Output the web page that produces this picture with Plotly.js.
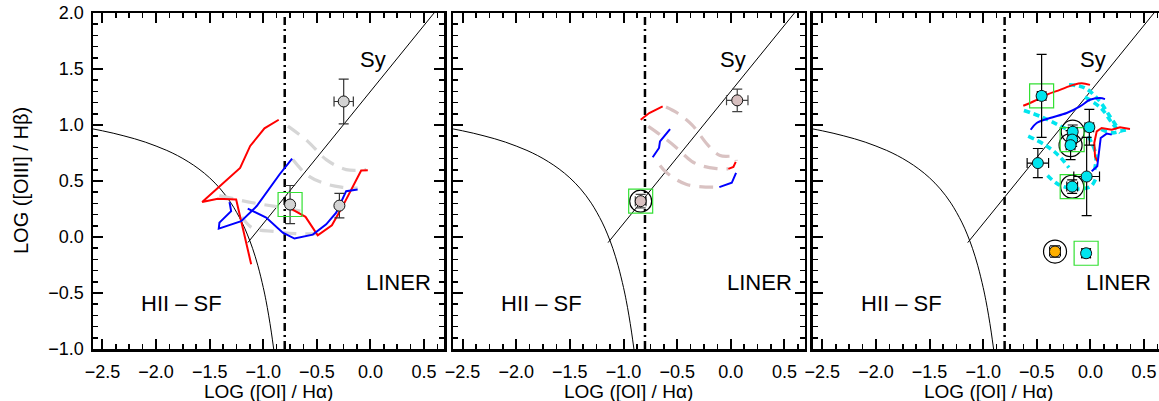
<!DOCTYPE html>
<html><head><meta charset="utf-8">
<script src="https://cdn.plot.ly/plotly-3.0.1.min.js"></script>
<style>html,body{margin:0;padding:0;background:#fff}#g{width:1159px;height:401px}</style>
</head><body><div id="g"></div>
<script>
// ---------- data ----------
// Kewley+01 maximum starburst curve (sampled)
const kewX = [-2.6,-2.5,-2.4,-2.3,-2.2,-2.1,-2.0,-1.9,-1.8,-1.7,-1.6,-1.5,-1.4,-1.3,-1.2,-1.15,-1.1,-1.05,-1.0,-0.975,-0.95,-0.925,-0.903];
const kewY = [0.967,0.948,0.927,0.903,0.877,0.847,0.812,0.773,0.727,0.672,0.607,0.528,0.429,0.302,0.133,0.026,-0.101,-0.257,-0.451,-0.566,-0.698,-0.849,-1.0];
// Seyfert / LINER line
const syX = [-1.144, 0.593];
const syY = [-0.05, 2.0];
// vertical dash-dot divider
const divX = [-0.8, -0.8];
const divY = [-1.0, 2.0];

// Panel 1
const p1X = [-0.25, -0.75, -0.29];
const p1Y = [1.21, 0.29, 0.28];
const p1Xerr = [0.09, 0.02, 0.02];
const p1Yerr = [0.20, 0.17, 0.11];
const p1SqX = [-0.75], p1SqY = [0.29];
const p1Red1X = [-0.856,-0.989,-1.122,-1.216,-1.570,-1.425,-1.253,-1.238,-1.113];
const p1Red1Y = [1.047,0.970,0.813,0.617,0.313,0.341,0.335,0.276,-0.243];
const p1Red2X = [-0.756,-0.606,-0.492,-0.360,-0.259,-0.149,-0.087,-0.025];
const p1Red2Y = [0.260,0.180,0.015,0.105,0.276,0.484,0.593,0.596];
const p1Blue1X = [-1.315,-1.300,-1.409,-1.415,-1.206,-1.061,-0.849,-0.731];
const p1Blue1Y = [0.311,0.231,0.128,0.075,0.142,0.276,0.558,0.700];
const p1Blue2X = [-1.145,-0.973,-0.818,-0.709,-0.538,-0.413,-0.320,-0.227,-0.120];
const p1Blue2Y = [0.253,0.173,0.039,-0.014,0.021,0.113,0.217,0.409,0.424];
const p1Gray1X = [-0.77,-0.585,-0.413,-0.227,-0.04];
const p1Gray1Y = [0.99,0.854,0.691,0.602,0.602];
const p1Gray2X = [-0.725,-0.585,-0.429,-0.273,-0.12];
const p1Gray2Y = [0.691,0.549,0.478,0.445,0.436];
const p1Gray3X = [-1.41,-1.10,-0.82,-0.60];
const p1Gray3Y = [0.37,0.306,0.262,0.22];
const p1Gray4X = [-1.20,-1.10,-0.90,-0.70,-0.50];
const p1Gray4Y = [0.18,0.08,0.05,0.03,0.03];

// Panel 2
const p2X = [0.06, -0.84];
const p2Y = [1.22, 0.32];
const p2Xerr = [0.10, 0.05];
const p2Yerr = [0.10, 0.06];
const p2MarkX = [-0.84], p2MarkY = [0.32];
const p2Red1X = [-0.84,-0.76,-0.635];
const p2Red1Y = [1.047,1.107,1.166];
const p2Blue1X = [-0.728,-0.669,-0.660,-0.566];
const p2Blue1Y = [0.712,0.795,0.854,0.964];
const p2Red2X = [-0.023,0.024,0.046];
const p2Red2Y = [0.608,0.626,0.671];
const p2Blue2X = [-0.107,-0.047,0.009,0.049];
const p2Blue2Y = [0.445,0.466,0.484,0.573];
const p2Dash1X = [-0.604,-0.498,-0.364,-0.209,-0.10,0.04,0.05];
const p2Dash1Y = [1.16,1.107,1.003,0.816,0.727,0.715,0.68];
const p2Dash2X = [-0.769,-0.66,-0.504,-0.364,-0.256,-0.131,-0.023];
const p2Dash2Y = [0.988,0.914,0.795,0.676,0.632,0.611,0.608];
const p2Dash3X = [-0.66,-0.597,-0.411,-0.116];
const p2Dash3Y = [0.638,0.573,0.469,0.445];

// Panel 3
const p3X = [-0.455,-0.49,-0.165,-0.17,-0.185,-0.01,-0.035,-0.17,-0.04];
const p3Y = [1.26,0.66,0.94,0.87,0.82,0.98,0.54,0.45,-0.145];
const p3Xerr = [0.04,0.10,0.04,0.04,0.04,0.04,0.12,0.05,0.04];
const p3Yerr = [0.37,0.13,0.06,0.06,0.13,0.16,0.35,0.06,0.04];
const p3OrX = [-0.33], p3OrY = [-0.13], p3OrErr = [0.05];
const p3SqX = [-0.455,-0.17,-0.17,-0.04];
const p3SqY = [1.26,0.87,0.45,-0.145];
const p3CirX = [-0.165,-0.185,-0.17,-0.33];
const p3CirY = [0.94,0.82,0.45,-0.13];
const p3Red1X = [-0.626,-0.533,-0.408,-0.284,-0.16,-0.081,-0.004];
const p3Red1Y = [1.172,1.21,1.27,1.314,1.358,1.373,1.358];
const p3Blue1X = [-0.557,-0.501,-0.377,-0.221,-0.097,-0.004,0.089,0.136];
const p3Blue1Y = [0.958,1.018,1.062,1.107,1.166,1.225,1.24,1.231];
const p3Red2X = [0.369,0.276,0.199,0.105,0.059,0.036,0.043,0.064];
const p3Red2Y = [0.964,0.979,0.958,0.973,0.943,0.84,0.72,0.676];
const p3Blue2X = [0.199,0.152,0.096,0.083,0.064,0.012];
const p3Blue2Y = [0.914,0.923,0.884,0.78,0.632,0.587];
const p3Cyan = [
  {x:[-0.20,-0.05,0.08,0.18,0.25], y:[1.36,1.33,1.22,1.08,0.98]},
  {x:[-0.05,0.10,0.20,0.28], y:[1.25,1.15,1.02,0.93]},
  {x:[-0.62,-0.45,-0.30,-0.15], y:[1.13,1.07,1.00,0.93]},
  {x:[-0.58,-0.42,-0.30,-0.20], y:[0.90,0.82,0.73,0.62]},
  {x:[-0.40,-0.30,-0.15,0.00,0.05], y:[0.55,0.47,0.43,0.45,0.52]},
  {x:[0.10,0.20,0.30,0.36], y:[0.96,0.93,0.95,0.96]},
  {x:[-0.02,0.05,0.04], y:[0.90,0.74,0.60]}
];

// region labels
const lblText = ["HII \u2013 SF", "LINER", "Sy"];
const lblX = [-1.765, 0.263, 0.025];
const lblY = [-0.593, -0.406, 1.587];

// ---------- build ----------
const FONT = "Liberation Sans, Arial, Helvetica, sans-serif";
const TICKC = '#000', MINC = '#000';
const traces = [];
function line(ax, x, y, color, width, dash, shape){
  traces.push({x:x, y:y, xaxis:'x'+ax, yaxis:'y'+ax, mode:'lines', hoverinfo:'skip',
    line:{color:color, width:width, dash:dash||'solid', shape:shape||'linear'}, showlegend:false});
}
function pts(ax, x, y, xe, ye, fill, ecol){
  traces.push({x:x, y:y, xaxis:'x'+ax, yaxis:'y'+ax, mode:'markers', showlegend:false,
    error_x:{type:'data', array:xe, color:ecol, thickness:1.2, width:5},
    error_y:{type:'data', array:ye, color:ecol, thickness:1.2, width:5},
    marker:{size:11, color:fill, line:{color:'#111', width:1}}});
}
function sym(ax, x, y, symbol, size, color){
  traces.push({x:x, y:y, xaxis:'x'+ax, yaxis:'y'+ax, mode:'markers', showlegend:false, hoverinfo:'skip',
    marker:{symbol:symbol, size:size, color:color, line:{color:color, width:1.2}}});
}
const GRAYD = '14px,9px', CYD = '6px,4px', DD = '8px,4px,2px,4px';
for (const ax of ['', '2', '3']) {
  line(ax, kewX, kewY, '#000', 1, 'solid', 'spline');
  line(ax, syX, syY, '#000', 1);
  line(ax, divX, divY, '#000', 2.5, DD);
}
// panel 1
line('', p1Gray1X, p1Gray1Y, '#d6d6d6', 3.2, GRAYD, 'spline');
line('', p1Gray2X, p1Gray2Y, '#d6d6d6', 3.2, GRAYD, 'spline');
line('', p1Gray3X, p1Gray3Y, '#d6d6d6', 3.2, GRAYD, 'spline');
line('', p1Gray4X, p1Gray4Y, '#d6d6d6', 3.2, GRAYD, 'spline');
line('', p1Red1X, p1Red1Y, '#ff0000', 2);
line('', p1Red2X, p1Red2Y, '#ff0000', 2);
line('', p1Blue1X, p1Blue1Y, '#0000ff', 2);
line('', p1Blue2X, p1Blue2Y, '#0000ff', 2);
pts('', p1X, p1Y, p1Xerr, p1Yerr, '#d3d3d3', '#333');
sym('', p1SqX, p1SqY, 'square-open', 24, '#33e033');
// panel 2
line('2', p2Dash1X, p2Dash1Y, '#d9c2c2', 3.2, GRAYD, 'spline');
line('2', p2Dash2X, p2Dash2Y, '#d9c2c2', 3.2, GRAYD, 'spline');
line('2', p2Dash3X, p2Dash3Y, '#d9c2c2', 3.2, GRAYD, 'spline');
line('2', p2Red1X, p2Red1Y, '#ff0000', 2);
line('2', p2Blue1X, p2Blue1Y, '#0000ff', 2);
line('2', p2Red2X, p2Red2Y, '#ff0000', 2);
line('2', p2Blue2X, p2Blue2Y, '#0000ff', 2);
pts('2', p2X, p2Y, p2Xerr, p2Yerr, '#d8c0c0', '#444');
sym('2', p2MarkX, p2MarkY, 'circle-open', 22, '#000');
sym('2', p2MarkX, p2MarkY, 'square-open', 24, '#33e033');
// panel 3
for (const c of p3Cyan) line('3', c.x, c.y, '#00e5ee', 3.6, CYD, 'spline');
line('3', p3Red1X, p3Red1Y, '#ff0000', 2, 'solid', 'spline');
line('3', p3Blue1X, p3Blue1Y, '#0000ff', 2, 'solid', 'spline');
line('3', p3Red2X, p3Red2Y, '#ff0000', 2);
line('3', p3Blue2X, p3Blue2Y, '#0000ff', 2);
sym('3', p3CirX, p3CirY, 'circle-open', 23, '#000');
sym('3', p3SqX, p3SqY, 'square-open', 24, '#33e033');
pts('3', p3X, p3Y, p3Xerr, p3Yerr, '#00e5ee', '#000');
pts('3', p3OrX, p3OrY, p3OrErr, p3OrErr, '#ffb000', '#000');

const LW = 2.5, SC = 107.2;
const XPAD = (LW/2)/SC;
function xax(domain, range, anchor){
  return {domain:domain, range:range, autorange:false, anchor:anchor, tickmode:'linear', tick0:0, dtick:0.5,
    ticks:'inside', ticklen:10, tickwidth:2, tickcolor:TICKC, showline:true, linewidth:LW, linecolor:'#000',
    mirror:'allticks', showgrid:false, zeroline:false, tickformat:'.1f',
    tickfont:{family:FONT, size:18, color:'#000'}, ticklabelstandoff:5,
    minor:{dtick:0.125, ticks:'inside', ticklen:5, tickwidth:1.6, tickcolor:MINC}};
}
function yax(anchor, labels, mirror){
  return {domain:[0,1], anchor:anchor, range:[-1, 2], autorange:false, tickmode:'linear', tick0:0, dtick:0.5,
    ticks:'inside', ticklen:10, tickwidth:2, tickcolor:TICKC, showline:true, linewidth:LW, linecolor:'#000',
    mirror:mirror, showgrid:false, zeroline:false, tickformat:'.1f', showticklabels:labels,
    tickfont:{family:FONT, size:18, color:'#000'}, ticklabelstandoff:3,
    minor:{dtick:0.1, ticks:'inside', ticklen:5, tickwidth:1.6, tickcolor:MINC}};
}
const W = 1159;
// frame line centres (px)
const F1 = [92, 445.7], F2 = [452, 806], F3 = [811.7, 1165.7];
const L = F1[0] + LW/2, PW = W - L;
const dom = f => [(f[0] + LW/2 - L)/PW, Math.min(1, (f[1] - LW/2 - L)/PW)];
const d1 = dom(F1), d2 = dom(F2), d3 = dom(F3);
const r3max = -2.6 + XPAD + (W - (F3[0] + LW/2))/SC;

const annotations = [];
const axes = [['x','y'],['x2','y2'],['x3','y3']];
const frames = [F1, F2, F3];
axes.forEach((a, i) => {
  for (let k = 0; k < lblText.length; k++) {
    annotations.push({xref:a[0], yref:a[1], x:lblX[k], y:lblY[k], text:lblText[k], showarrow:false,
      xanchor:'center', yanchor:'middle', font:{family:FONT, size:22, color:'#000'}});
  }
  const cx = ((frames[i][0] + frames[i][1]) / 2 - L) / PW;
  annotations.push({xref:'paper', yref:'paper', x:cx, y:0, yshift:-42, text:'LOG ([OI] / H\u03b1)', showarrow:false,
    xanchor:'center', yanchor:'middle', font:{family:FONT, size:19, color:'#000'}});
});
annotations.push({xref:'paper', yref:'paper', x:0, xshift:-72, y:0.5, text:'LOG ([OIII] / H\u03b2)', textangle:-90,
  showarrow:false, xanchor:'center', yanchor:'middle', font:{family:FONT, size:20, color:'#000'}});

const layout = {
  width:W, height:401, margin:{l:L, r:0, t:13, b:52}, paper_bgcolor:'#fff', plot_bgcolor:'#fff',
  showlegend:false, font:{family:FONT, color:'#000'},
  xaxis: xax(d1, [-2.6 + XPAD, 0.7 - XPAD], 'y'),
  xaxis2: xax(d2, [-2.6 + XPAD, 0.7 - XPAD], 'y2'),
  xaxis3: xax(d3, [-2.6 + XPAD, r3max], 'y3'),
  yaxis: yax('x', true, 'allticks'),
  yaxis2: yax('x2', false, 'allticks'),
  yaxis3: yax('x3', false, false),
  annotations: annotations
};
Plotly.newPlot('g', traces, layout, {staticPlot:true, displayModeBar:false});
</script></body></html>
